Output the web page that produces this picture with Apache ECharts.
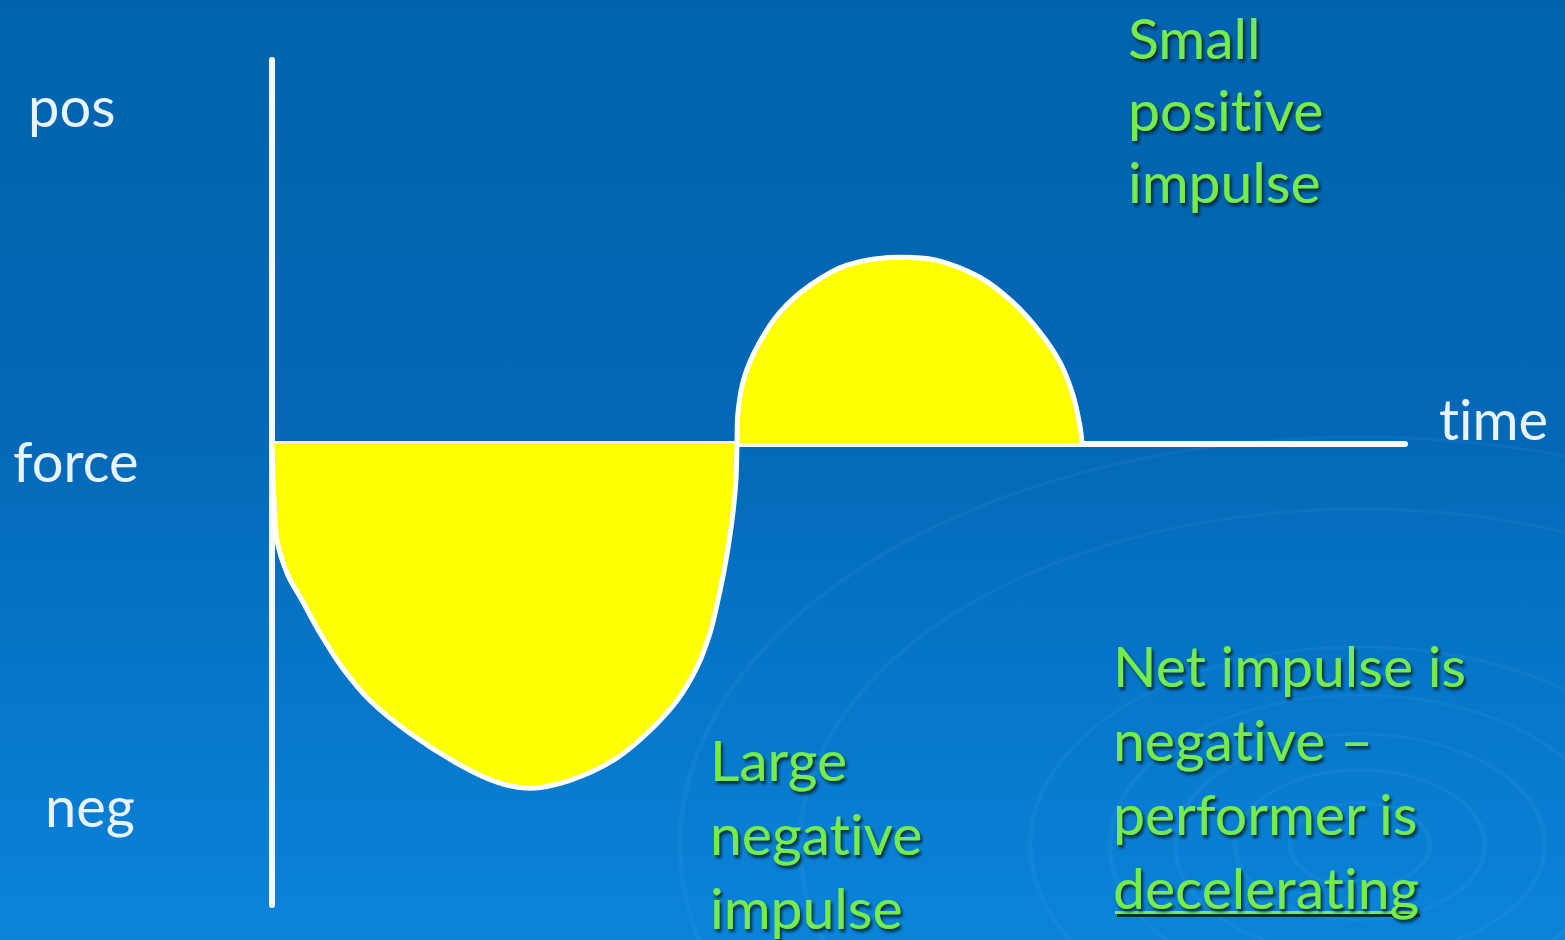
<!DOCTYPE html>
<html>
<head>
<meta charset="utf-8">
<title>Force–time impulse</title>
<script src="https://cdn.jsdelivr.net/npm/echarts@6/dist/echarts.min.js"></script>
<style>
  html, body { margin: 0; padding: 0; width: 1565px; height: 940px; overflow: hidden; }
  #chart { width: 1565px; height: 940px; }
  /* keep "ti" as two letters in the label font */
  #chart text { font-variant-ligatures: none !important; font-feature-settings: "liga" 0, "clig" 0 !important; }
</style>
</head>
<body>
<div id="chart"></div>
<script>
// Time (arbitrary units, 0–100 along the axis) and force (negative below the axis)
const timeValues = [
  0, 0.18, 0.44, 1.41, 2.65, 4.24, 6.18, 8.65, 12.18, 16.33, 19.86, 22.77,
  26.3, 30.1, 33.1, 35.75, 37.51, 38.66, 39.36, 40.07, 40.6, 40.95, 41.04,
  41.13, 41.66, 42.89, 44.84, 47.48, 50.75, 55.4, 58.7, 62.5, 65.4, 67.8,
  69.55, 70.7, 71.3, 71.5
];
const forceValues = [
  0, -12.3, -21.0, -28.6, -34.0, -41.1, -48.5, -55.7, -62.8, -69.3, -73.4, -74.7,
  -73.0, -68.7, -62.8, -55.7, -48.5, -41.1, -34.0, -25.3, -16.7, -8.0, 0,
  6.7, 14.1, 21.2, 28.4, 34.2, 38.6, 40.3, 39.6, 35.9, 30.5, 24.0,
  17.5, 10.4, 3.9, 0
];

// Axis extents
const timeRange = [0, 100];
const forceRange = [-100, 83];

// Side labels and notes
const forceAxisLabels = ['pos', 'force', 'neg'];
const timeAxisLabel = 'time';
const smallNote = ['Small', 'positive', 'impulse'];
const largeNote = ['Large', 'negative', 'impulse'];
const netNote = ['Net impulse is', 'negative –', 'performer is'];
const netNoteLast = 'decelerating';

const points = timeValues.map((t, i) => [t, forceValues[i]]);

const chart = echarts.init(document.getElementById('chart'), null, { renderer: 'svg' });

const FONT = 'Lato, "Open Sans", sans-serif';
const WHITE_TXT = '#E8F3FF';
const GREEN_TXT = '#74EC4C';
const SHADOW = 'rgba(0,25,15,0.8)';

function greenText(x, y, text, lh) {
  return {
    type: 'text', x: x, y: y, z: 20,
    style: {
      text: text, fill: GREEN_TXT, font: '57px ' + FONT,
      lineHeight: lh || 74,
      textShadowColor: SHADOW, textShadowBlur: 3,
      textShadowOffsetX: 2, textShadowOffsetY: 3
    }
  };
}
function whiteText(x, y, text) {
  return {
    type: 'text', x: x, y: y, z: 20,
    style: { text: text, fill: WHITE_TXT, font: '56px ' + FONT, textVerticalAlign: 'middle' }
  };
}

// faint ripple rings in the lower right (flattened circles)
const ripples = [70, 125, 185, 250, 330, 560, 680].map(r => ({
  type: 'circle', z: -5, silent: true,
  x: 1360, y: 845, scaleY: 0.6,
  shape: { cx: 0, cy: 0, r: r },
  style: { fill: null, stroke: 'rgba(140,205,255,0.07)', lineWidth: 5 }
}));

chart.setOption({
  animation: false,
  backgroundColor: {
    type: 'linear', x: 0, y: 0, x2: 0, y2: 1,
    colorStops: [
      { offset: 0, color: '#0063AE' },
      { offset: 0.45, color: '#0368B6' },
      { offset: 1, color: '#0A84DA' }
    ]
  },
  grid: { left: 272, right: 160, top: 60, bottom: 35 },
  xAxis: {
    type: 'value', min: timeRange[0], max: timeRange[1],
    axisLine: { onZero: true, lineStyle: { color: '#F4FAFF', width: 6 } },
    axisTick: { show: false }, axisLabel: { show: false }, splitLine: { show: false },
    name: timeAxisLabel, nameLocation: 'end', nameGap: 34,
    nameTextStyle: { color: WHITE_TXT, fontSize: 56, fontFamily: 'Lato', verticalAlign: 'bottom', padding: [0, 0, -3, 0] }
  },
  yAxis: {
    type: 'value', min: forceRange[0], max: forceRange[1],
    axisLine: { show: true, onZero: false, lineStyle: { color: '#F4FAFF', width: 6 } },
    axisTick: { show: false }, axisLabel: { show: false }, splitLine: { show: false }
  },
  series: [{
    type: 'line',
    data: points,
    smooth: 0.3,
    showSymbol: false,
    lineStyle: { color: '#FFFFFF', width: 5 },
    areaStyle: { color: '#FFFF00', opacity: 1 },
    z: 3
  }],
  graphic: [
    ...ripples,
    whiteText(28, 105, forceAxisLabels[0]),
    whiteText(13, 460, forceAxisLabels[1]),
    whiteText(45, 805, forceAxisLabels[2]),
    greenText(1128, 1, smallNote.join('\n'), 72),
    greenText(710, 722, largeNote.join('\n')),
    greenText(1113, 628, netNote.join('\n') + '\n' + netNoteLast),
    // underline under the last word
    { type: 'rect', z: 19, shape: { x: 1117, y: 914, width: 303, height: 3 }, style: { fill: SHADOW } },
    { type: 'rect', z: 19, shape: { x: 1115, y: 911, width: 303, height: 3 }, style: { fill: GREEN_TXT } }
  ]
});
</script>
</body>
</html>
